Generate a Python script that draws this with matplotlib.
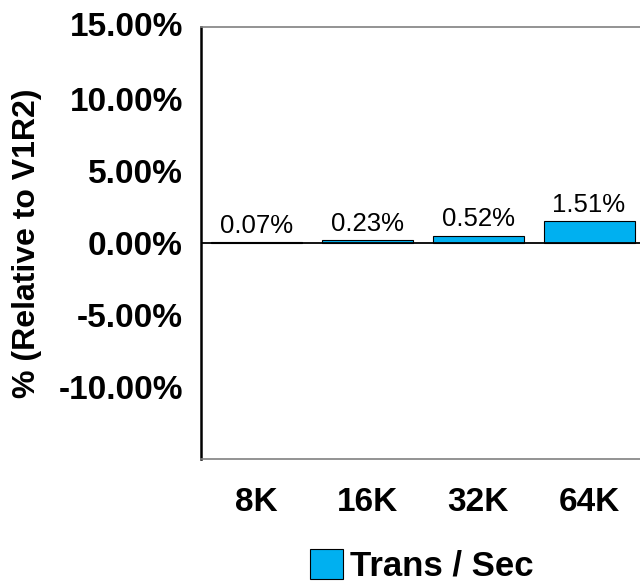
import matplotlib
matplotlib.use("Agg")
import matplotlib.pyplot as plt
from matplotlib.patches import Patch

categories = ["8K", "16K", "32K", "64K"]
trans_sec = [0.07, 0.23, 0.52, 1.51]
bar_labels = ["0.07%", "0.23%", "0.52%", "1.51%"]
yticks = [-10, -5, 0, 5, 10, 15]
ytick_labels = ["-10.00%", "-5.00%", "0.00%", "5.00%", "10.00%", "15.00%"]
series_name = "Trans / Sec"
ylabel = "% (Relative to V1R2)"

plt.rcParams['font.family'] = ['Liberation Sans', 'DejaVu Sans']

W, H = 640, 584
fig = plt.figure(figsize=(W / 100, H / 100), dpi=100)
ax = fig.add_axes([201 / W, 1 - 459 / H, 443.5 / W, 432 / H])

color = '#00B0F0'
x = list(range(len(categories)))
bars = ax.bar(x, trans_sec, width=0.82, color=color, edgecolor='black', linewidth=0.8, zorder=2)
ax.bar_label(bars, labels=bar_labels, padding=3, fontsize=18.5)

ax.set_xlim(-0.5, len(categories) - 0.5)
ax.set_ylim(-15, 15)
ax.set_yticks(yticks)
ax.set_yticklabels(ytick_labels, fontsize=24, fontweight='bold')
ax.set_xticks(x)
ax.set_xticklabels(categories, fontsize=24, fontweight='bold')
ax.tick_params(axis='y', length=0, pad=13)
ax.tick_params(axis='x', length=0, pad=20)
for lbl in ax.get_yticklabels():
    if lbl.get_text() == "15.00%":
        lbl.set_verticalalignment('center')

ax.axhline(0, color='black', linewidth=1.3, zorder=3)

ax.spines['left'].set_color('black')
ax.spines['left'].set_linewidth(1.8)
ax.spines['top'].set_color('#808080')
ax.spines['top'].set_linewidth(1.2)
ax.spines['bottom'].set_color('#808080')
ax.spines['bottom'].set_linewidth(1.2)
ax.spines['right'].set_visible(False)

fig.text(27 / W, 1 - 243 / H, ylabel, rotation=90, ha='center', va='center',
         fontsize=23, fontweight='bold')

handle = Patch(facecolor=color, edgecolor='black', linewidth=0.8)
fig.legend([handle], [series_name], loc='center', bbox_to_anchor=(421.5 / W, 1 - 566 / H),
           frameon=False, prop={'size': 25, 'weight': 'bold'},
           handlelength=0.95, handleheight=0.95, handletextpad=0.2, borderpad=0)

fig.savefig("out.png", dpi=100)
